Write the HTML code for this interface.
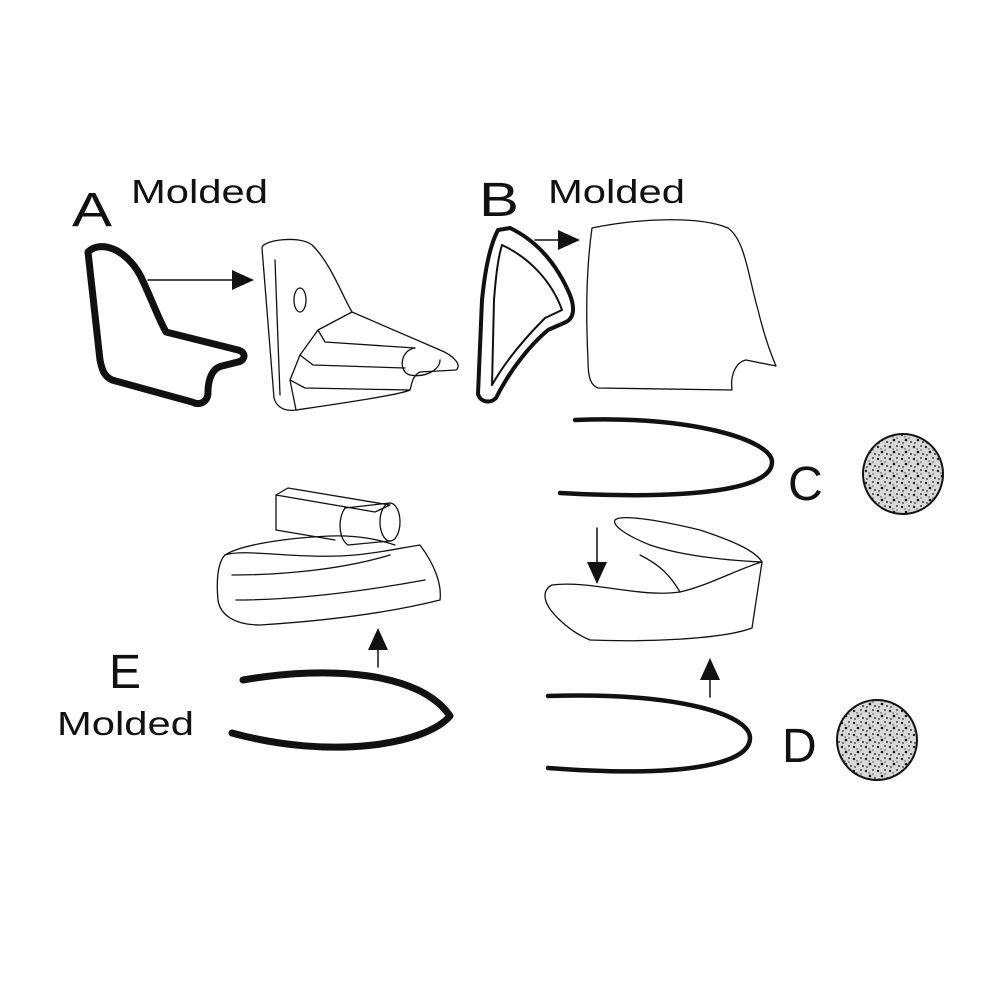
<!DOCTYPE html>
<html><head><meta charset="utf-8"><style>
html,body{margin:0;padding:0;background:#fff;}
svg{display:block}
text{font-family:"Liberation Sans",sans-serif;fill:#111}
</style></head><body>
<svg width="1000" height="1000" viewBox="0 0 1000 1000" xmlns="http://www.w3.org/2000/svg">
<defs>
<pattern id="sp" width="12" height="12" patternUnits="userSpaceOnUse">
<rect width="12" height="12" fill="#d8d8d8"/>
<circle cx="2" cy="3" r="1.2" fill="#222"/><circle cx="9" cy="2" r="1" fill="#444"/>
<circle cx="6" cy="8" r="1.3" fill="#111"/><circle cx="11" cy="10" r="1" fill="#333"/>
<circle cx="3" cy="11" r="0.9" fill="#333"/><circle cx="9" cy="6" r="0.8" fill="#555"/>
<circle cx="5" cy="5" r="0.7" fill="#444"/>
</pattern>
<marker id="ah2" markerWidth="22" markerHeight="20" refX="20" refY="10" orient="auto" markerUnits="userSpaceOnUse">
<path d="M0,0 L22,10 L0,20 Z" fill="#111"/></marker>
</defs>
<text x="72" y="226" font-size="48" textLength="40" lengthAdjust="spacingAndGlyphs">A</text>
<text x="131" y="203" font-size="33" textLength="137" lengthAdjust="spacingAndGlyphs">Molded</text>
<text x="479" y="216" font-size="48" textLength="40" lengthAdjust="spacingAndGlyphs">B</text>
<text x="548" y="203" font-size="33" textLength="137" lengthAdjust="spacingAndGlyphs">Molded</text>
<text x="788" y="500" font-size="48">C</text>
<text x="782" y="762" font-size="48">D</text>
<text x="109" y="688" font-size="48">E</text>
<text x="57" y="735" font-size="33" textLength="137" lengthAdjust="spacingAndGlyphs">Molded</text>

<g fill="none" stroke="#111" stroke-linejoin="round" stroke-linecap="round">
<path d="M88,252 C100,240 125,248 140,275 C150,295 158,318 166,332 L238,350 C246,352 246,360 238,362 L222,366 C212,368 208,380 208,392 C208,402 200,406 192,402 L112,380 C104,376 102,370 100,360 L88,252 Z" stroke-width="7"/>
<line x1="148" y1="280" x2="252" y2="280" stroke-width="1.5" marker-end="url(#ah2)"/>
<g stroke-width="1.3">
<path d="M262,248 C262,240 300,235 312,245 C330,262 342,295 352,312 L440,350 C455,356 462,366 456,370 L420,372 C412,376 412,384 410,390 C400,395 330,405 296,410 C282,412 276,405 274,398 L262,248 Z"/>
<ellipse cx="300" cy="300" rx="6" ry="12"/>
<path d="M352,312 L318,330 L300,355 L290,380 L296,410"/>
<path d="M318,330 L325,342 L415,348"/>
<path d="M300,355 L313,365 L405,368"/>
<path d="M290,380 L305,388 L410,390"/>
<path d="M415,348 C400,350 398,372 410,375 C425,378 440,370 440,360"/>
<path d="M275,260 L280,395"/>
</g>
<path d="M498,230 L510,228 C535,240 556,262 570,295 C575,308 574,318 566,322 L548,330 C530,345 510,370 496,398 C490,404 480,402 478,394 L482,300 C485,270 490,245 498,230 Z" stroke-width="4"/>
<path d="M502,245 C530,258 552,282 562,310 L545,318 C525,338 505,362 492,385 L494,300 C496,275 498,258 502,245 Z" stroke-width="2"/>
<line x1="535" y1="240" x2="578" y2="240" stroke-width="1.5" marker-end="url(#ah2)"/>
<path d="M592,228 C640,218 700,216 728,228 C745,240 748,275 758,310 C764,335 770,352 776,366 L746,360 C736,362 730,375 732,390 L598,388 C590,385 588,376 588,360 C586,320 586,270 592,228 Z" stroke-width="1.3"/>
<path d="M575,420 C690,415 772,440 772,462 C772,490 690,500 560,493" stroke-width="4.5"/>
<circle cx="903" cy="474" r="40" fill="url(#sp)" stroke-width="2"/>
<path d="M548,696 C680,692 750,715 750,738 C750,765 680,778 548,768" stroke-width="4.5"/>
<circle cx="877" cy="740" r="40" fill="url(#sp)" stroke-width="2"/>
<g stroke-width="1.3">
<path d="M552,585 C590,580 640,598 680,592 C710,585 740,568 762,562 L752,628 C720,640 640,642 590,640 C570,632 545,610 545,596 C545,590 548,587 552,585 Z"/>
<path d="M762,562 C720,560 680,555 650,545 C625,535 612,525 615,520 C620,515 650,518 700,530 C730,540 755,550 762,562"/>
<path d="M680,592 C670,575 660,565 640,555"/>
</g>
<line x1="597" y1="528" x2="597" y2="582" stroke-width="1.5" marker-end="url(#ah2)"/>
<line x1="710" y1="697" x2="710" y2="660" stroke-width="1.5" marker-end="url(#ah2)"/>
<path d="M243,680 C330,665 420,672 450,716 C425,745 330,760 232,733" stroke-width="7"/>
<line x1="378" y1="667" x2="378" y2="630" stroke-width="1.5" marker-end="url(#ah2)"/>
<g stroke-width="1.3">
<path d="M225,555 C245,548 300,560 355,555 C385,552 400,548 420,545 C435,565 442,585 440,600 C400,610 340,620 260,625 C235,625 220,615 218,600 C216,580 218,562 225,555 Z"/>
<path d="M225,555 C240,545 285,538 330,536 C360,535 380,540 395,545"/>
<path d="M232,575 C280,575 340,570 390,555"/>
<path d="M236,600 C300,600 370,590 425,580"/>
<path d="M276,495 L288,488 L390,505 L375,512 Z"/>
<path d="M276,495 L276,530 L335,540"/>
<ellipse cx="390" cy="522" rx="10" ry="19"/>
<path d="M345,508 L390,503 M348,545 L390,541"/>
<path d="M345,508 C338,518 338,538 348,545"/>
</g>
</g>
</svg>
</body></html>
